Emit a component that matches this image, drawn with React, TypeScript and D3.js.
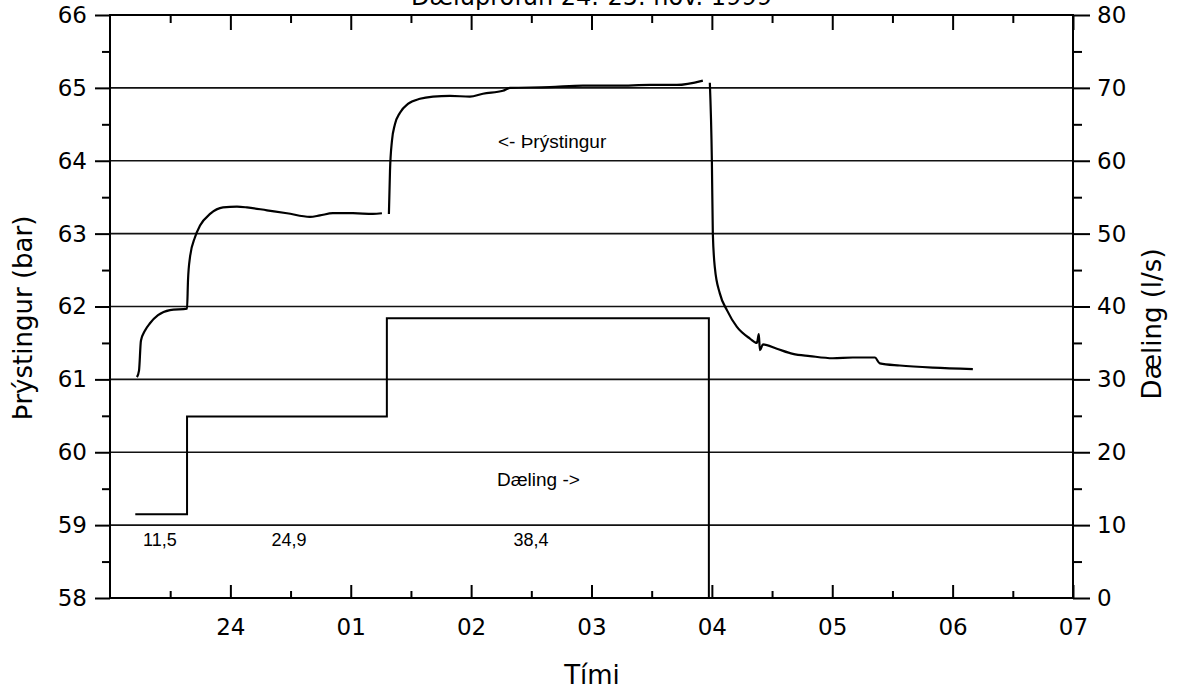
import React, { useRef, useEffect } from 'react';
import * as d3 from 'd3';

// time in hours (24 = midnight, 25 = 01 ...)
const hourTicks = [24, 25, 26, 27, 28, 29, 30, 31];
const hourLabels = ['24', '01', '02', '03', '04', '05', '06', '07'];

// pressure (bar), first pumping steps
const pTime1 = [23.224, 23.241, 23.257, 23.291, 23.332, 23.399, 23.498, 23.64, 23.648, 23.664, 23.706, 23.748, 23.831, 23.939, 24.055, 24.138, 24.304, 24.47, 24.661, 24.744, 24.852, 25.018, 25.184, 25.259];
const pVal1 = [61.03, 61.12, 61.53, 61.67, 61.77, 61.88, 61.95, 61.97, 62.36, 62.67, 62.95, 63.11, 63.27, 63.36, 63.37, 63.36, 63.32, 63.28, 63.23, 63.25, 63.28, 63.28, 63.27, 63.28];

// pressure, third step
const pTime2 = [25.317, 25.326, 25.342, 25.367, 25.409, 25.475, 25.575, 25.683, 25.824, 25.99, 26.098, 26.264, 26.322, 26.654, 26.929, 27.211, 27.485, 27.709, 27.925];
const pVal2 = [63.27, 63.86, 64.27, 64.5, 64.66, 64.78, 64.85, 64.88, 64.89, 64.88, 64.92, 64.96, 65.0, 65.01, 65.03, 65.03, 65.04, 65.04, 65.1];

// pressure, recovery after pump stop
const pTime3 = [27.983, 28.0, 28.008, 28.025, 28.066, 28.125, 28.208, 28.316, 28.374, 28.39, 28.399, 28.424, 28.54, 28.673, 28.814, 29.005, 29.171, 29.354, 29.395, 29.561, 29.836, 30.168];
const pVal3 = [65.07, 64.0, 63.0, 62.53, 62.18, 61.95, 61.72, 61.56, 61.5, 61.62, 61.4, 61.48, 61.42, 61.35, 61.32, 61.29, 61.3, 61.3, 61.22, 61.19, 61.16, 61.14];

// pumping rate (l/s)
const pumpTime = [23.21, 23.64, 25.3, 27.975];
const pumpRate = [11.5, 24.9, 38.4, 0];
const rateLabels = ['11,5', '24,9', '38,4'];
const rateLabelTime = [23.415, 24.487, 26.497];

const App = () => {
  const svgRef = useRef();
  const width = 1178;
  const height = 693;

  useEffect(() => {
    document.body.style.margin = '0';
    const svg = d3.select(svgRef.current);
    svg.selectAll('*').remove();

    const left = 110, right = 1073, top = 15, bottom = 598;
    const tickFont = "'DejaVu Sans', sans-serif";
    const noteFont = "'Liberation Sans', Arial, sans-serif";

    const x = d3.scaleLinear().domain([23, 31]).range([left, right]);
    const yP = d3.scaleLinear().domain([58, 66]).range([bottom, top]);
    const yQ = d3.scaleLinear().domain([0, 80]).range([bottom, top]);

    // title, cut at the top edge as in the scan
    svg.append('text')
      .attr('x', (left + right) / 2)
      .attr('y', 5)
      .attr('text-anchor', 'middle')
      .style('font-family', tickFont)
      .style('font-size', '24px')
      .text('Dæluprófun 24.-25. nóv. 1999');

    // gridlines
    svg.append('g')
      .selectAll('line')
      .data(d3.range(59, 66))
      .enter().append('line')
      .attr('x1', left)
      .attr('x2', right)
      .attr('y1', d => yP(d))
      .attr('y2', d => yP(d))
      .attr('stroke', '#111')
      .attr('stroke-width', 1.6);

    const styleAxis = (g) => {
      g.selectAll('.domain').remove();
      g.selectAll('line').attr('stroke', '#000').attr('stroke-width', 2);
      g.selectAll('text')
        .style('font-family', tickFont)
        .style('font-size', '23px')
        .attr('fill', '#000');
    };

    // left axis
    svg.append('g')
      .attr('transform', `translate(${left},0)`)
      .call(d3.axisLeft(yP).tickValues(d3.range(58.5, 66, 1)).tickSize(8).tickFormat(() => ''))
      .call(styleAxis);
    svg.append('g')
      .attr('transform', `translate(${left},0)`)
      .call(d3.axisLeft(yP).tickValues(d3.range(58, 67, 1)).tickSize(15).tickPadding(8).tickFormat(d3.format('d')))
      .call(styleAxis);

    // right axis
    svg.append('g')
      .attr('transform', `translate(${right},0)`)
      .call(d3.axisRight(yQ).tickValues(d3.range(5, 80, 10)).tickSize(9).tickFormat(() => ''))
      .call(styleAxis);
    svg.append('g')
      .attr('transform', `translate(${right},0)`)
      .call(d3.axisRight(yQ).tickValues(d3.range(0, 90, 10)).tickSize(17).tickPadding(7).tickFormat(d3.format('d')))
      .call(styleAxis);

    // bottom axis, ticks pointing in
    const halfHours = d3.range(23.5, 31, 1);
    svg.append('g')
      .attr('transform', `translate(0,${bottom})`)
      .call(d3.axisBottom(x).tickValues(halfHours).tickSize(-7).tickFormat(() => ''))
      .call(styleAxis);
    svg.append('g')
      .attr('transform', `translate(0,${bottom})`)
      .call(d3.axisBottom(x).tickValues(hourTicks).tickSize(-13).tickPadding(21)
        .tickFormat((d, i) => hourLabels[i]))
      .call(styleAxis);

    // top axis, ticks pointing in
    svg.append('g')
      .attr('transform', `translate(0,${top})`)
      .call(d3.axisTop(x).tickValues(halfHours).tickSize(-8).tickFormat(() => ''))
      .call(styleAxis);
    svg.append('g')
      .attr('transform', `translate(0,${top})`)
      .call(d3.axisTop(x).tickValues(hourTicks).tickSize(-15).tickFormat(() => ''))
      .call(styleAxis);

    // frame
    svg.append('rect')
      .attr('x', left)
      .attr('y', top)
      .attr('width', right - left)
      .attr('height', bottom - top)
      .attr('fill', 'none')
      .attr('stroke', '#000')
      .attr('stroke-width', 2);

    // pressure curves
    const pLine = d3.line()
      .x(d => x(d[0]))
      .y(d => yP(d[1]))
      .curve(d3.curveMonotoneX);
    [[pTime1, pVal1], [pTime2, pVal2], [pTime3, pVal3]].forEach(([t, v]) => {
      svg.append('path')
        .datum(t.map((d, i) => [d, v[i]]))
        .attr('d', pLine)
        .attr('fill', 'none')
        .attr('stroke', '#000')
        .attr('stroke-width', 2.2);
    });

    // pumping steps
    const qLine = d3.line()
      .x(d => x(d[0]))
      .y(d => yQ(d[1]))
      .curve(d3.curveStepAfter);
    svg.append('path')
      .datum(pumpTime.map((d, i) => [d, pumpRate[i]]))
      .attr('d', qLine)
      .attr('fill', 'none')
      .attr('stroke', '#000')
      .attr('stroke-width', 2);

    // rate labels
    svg.append('g')
      .selectAll('text')
      .data(rateLabels)
      .enter().append('text')
      .attr('x', (d, i) => x(rateLabelTime[i]))
      .attr('y', 546)
      .attr('text-anchor', 'middle')
      .style('font-family', noteFont)
      .style('font-size', '18px')
      .text(d => d);

    svg.append('text')
      .attr('x', 498)
      .attr('y', 148)
      .style('font-family', noteFont)
      .style('font-size', '19px')
      .text('<- Þrýstingur');

    svg.append('text')
      .attr('x', 497)
      .attr('y', 486)
      .style('font-family', noteFont)
      .style('font-size', '19px')
      .text('Dæling ->');

    // axis titles
    svg.append('text')
      .attr('transform', 'translate(32,318) rotate(-90)')
      .attr('text-anchor', 'middle')
      .style('font-family', tickFont)
      .style('font-size', '26px')
      .text('Þrýstingur (bar)');

    svg.append('text')
      .attr('transform', 'translate(1161,324) rotate(-90)')
      .attr('text-anchor', 'middle')
      .style('font-family', tickFont)
      .style('font-size', '26px')
      .text('Dæling (l/s)');

    svg.append('text')
      .attr('x', 592)
      .attr('y', 684)
      .attr('text-anchor', 'middle')
      .style('font-family', tickFont)
      .style('font-size', '26px')
      .text('Tími');
  }, []);

  return (
    <svg ref={svgRef} width={width} height={height} style={{ display: 'block', background: '#fff' }} />
  );
};

export default App;
